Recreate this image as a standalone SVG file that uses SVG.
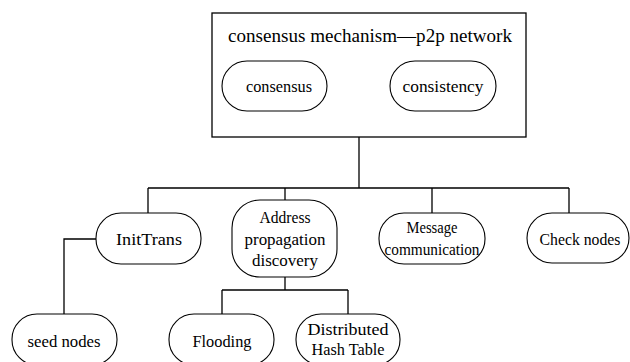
<svg xmlns="http://www.w3.org/2000/svg" width="630" height="362" viewBox="0 0 630 362">
<style>
.box{fill:#fff;stroke:#000;stroke-width:1.3}
.pill{fill:#fff;stroke:#000;stroke-width:1.1}
.ln{fill:none;stroke:#000;stroke-width:1.3}
text{font-family:"Liberation Serif","Times New Roman",serif;font-size:17.5px;fill:#000;text-anchor:middle}
.title{font-size:19.5px}
</style>
<rect width="630" height="362" fill="#fff"/>
<g id="connectors">
<path class="ln" d="M359,137 V188 M148,188 H569 M148,188 V213 M285,188 V200 M432,188 V213 M569,188 V213"/>
<path class="ln" d="M96,239 H64 V314"/>
<path class="ln" d="M285,277 V290 M222,290 H348 M222,290 V314 M348,290 V314"/>
</g>
<g id="top">
<rect class="box" x="212" y="13" width="314" height="124"/>
<text class="title" x="370" y="42" textLength="284" lengthAdjust="spacingAndGlyphs">consensus mechanism—p2p network</text>
</g>
<g id="consensus">
<rect class="pill" x="222" y="61" width="105" height="50" rx="25"/>
<text x="279" y="92" textLength="66" lengthAdjust="spacingAndGlyphs">consensus</text>
</g>
<g id="consistency">
<rect class="pill" x="390" y="61" width="106" height="50" rx="25"/>
<text x="443" y="92" textLength="81" lengthAdjust="spacingAndGlyphs">consistency</text>
</g>
<g id="inittrans">
<rect class="pill" x="96" y="213" width="105" height="51" rx="25"/>
<text x="149" y="245" textLength="66" lengthAdjust="spacingAndGlyphs">InitTrans</text>
</g>
<g id="address">
<rect class="pill" x="232" y="200" width="105" height="77" rx="28"/>
<text x="285" y="223" textLength="51" lengthAdjust="spacingAndGlyphs">Address</text>
<text x="285" y="245" textLength="81" lengthAdjust="spacingAndGlyphs">propagation</text>
<text x="285" y="266" textLength="66" lengthAdjust="spacingAndGlyphs">discovery</text>
</g>
<g id="message">
<rect class="pill" x="379" y="213" width="106" height="51" rx="25"/>
<text x="432" y="233" textLength="51" lengthAdjust="spacingAndGlyphs">Message</text>
<text x="432" y="255" textLength="95" lengthAdjust="spacingAndGlyphs">communication</text>
</g>
<g id="check">
<rect class="pill" x="527" y="213" width="102" height="50" rx="25"/>
<text x="580" y="245" textLength="81" lengthAdjust="spacingAndGlyphs">Check nodes</text>
</g>
<g id="seed">
<rect class="pill" x="12" y="314" width="105" height="51" rx="25"/>
<text x="64" y="347" textLength="73" lengthAdjust="spacingAndGlyphs">seed nodes</text>
</g>
<g id="flooding">
<rect class="pill" x="169" y="314" width="105" height="51" rx="25"/>
<text x="222" y="347" textLength="59" lengthAdjust="spacingAndGlyphs">Flooding</text>
</g>
<g id="dht">
<rect class="pill" x="296" y="314" width="104" height="51" rx="25"/>
<text x="348" y="335" textLength="81" lengthAdjust="spacingAndGlyphs">Distributed</text>
<text x="348" y="355" textLength="73" lengthAdjust="spacingAndGlyphs">Hash Table</text>
</g>
</svg>
